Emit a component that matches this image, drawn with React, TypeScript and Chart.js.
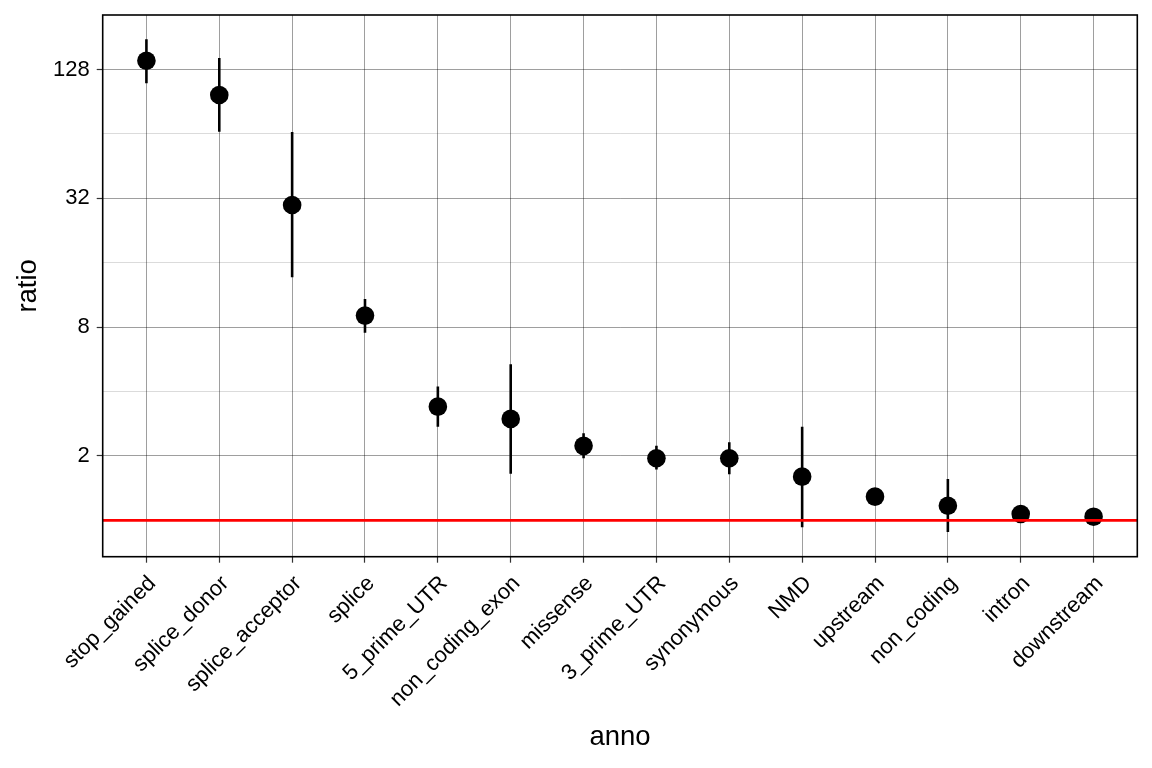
import React, { useEffect, useRef } from "react";
import { Chart, registerables } from "chart.js";

Chart.register(...registerables);

const categories = [
  "stop_gained", "splice_donor", "splice_acceptor", "splice", "5_prime_UTR",
  "non_coding_exon", "missense", "3_prime_UTR", "synonymous", "NMD",
  "upstream", "non_coding", "intron", "downstream",
];
const ratio = [140.8, 97.4, 29.8, 9.06, 3.4, 2.98, 2.23, 1.95, 1.95, 1.6, 1.29, 1.17, 1.07, 1.04];
const lower = [110.4, 65.6, 13.7, 7.54, 2.74, 1.65, 1.95, 1.73, 1.64, 0.929, 1.24, 0.883, 1.03, 1.01];
const upper = [177.3, 145, 65.4, 10.84, 4.22, 5.37, 2.55, 2.23, 2.32, 2.74, 1.34, 1.56, 1.11, 1.07];
const yTicks = [1, 2, 4, 8, 16, 32, 64, 128];
const yLabelled = [2, 8, 32, 128];
const refLine = 1;

const FONT = "'Liberation Sans', Arial, Helvetica, sans-serif";

const borderPlugin = {
  id: "panelBorder",
  afterDraw(chart: any) {
    const { ctx, chartArea } = chart;
    ctx.save();
    ctx.strokeStyle = "#000";
    ctx.lineWidth = 1.6;
    ctx.strokeRect(chartArea.left, chartArea.top, chartArea.right - chartArea.left, chartArea.bottom - chartArea.top);
    ctx.restore();
  },
};

export default function App() {
  const ref = useRef<HTMLCanvasElement | null>(null);
  useEffect(() => {
    if (!ref.current) return;
    const n = categories.length;
    const errData: any[] = [];
    categories.forEach((_, i) => {
      errData.push({ x: i, y: lower[i] });
      errData.push({ x: i, y: upper[i] });
      errData.push({ x: i, y: null });
    });
    const chart = new Chart(ref.current, {
      type: "scatter",
      data: {
        datasets: [
          {
            data: [{ x: -0.6, y: refLine }, { x: n - 1 + 0.6, y: refLine }],
            showLine: true,
            borderColor: "#ff0000",
            borderWidth: 2.6,
            pointRadius: 0,
          } as any,
          {
            data: categories.map((_, i) => ({ x: i, y: ratio[i] })),
            backgroundColor: "#000",
            borderColor: "#000",
            pointRadius: 9.3,
            pointBorderWidth: 0,
          },
          {
            data: errData,
            showLine: true,
            spanGaps: false,
            borderColor: "#000",
            borderWidth: 2.6,
            pointRadius: 0,
          } as any,
        ],
      },
      options: {
        animation: false,
        responsive: false,
        devicePixelRatio: 1,
        events: [],
        layout: { padding: { left: 0, right: 14.7, top: 15, bottom: 0 } },
        plugins: { legend: { display: false }, tooltip: { enabled: false } },
        scales: {
          x: {
            type: "linear",
            min: -0.6,
            max: n - 1 + 0.6,
            afterBuildTicks: (s: any) => {
              s.ticks = categories.map((_, i) => ({ value: i }));
            },
            afterFit: (s: any) => {
              s.height = 211.3;
              s.paddingLeft = 0;
              s.paddingRight = 0;
            },
            ticks: {
              autoSkip: false,
              maxRotation: 45,
              minRotation: 45,
              padding: 8,
              labelOffset: 6,
              color: "#000",
              font: { family: FONT, size: 22 },
              callback: (v: any) => categories[Math.round(Number(v))] ?? "",
            },
            grid: {
              color: "rgba(0,0,0,0.38)",
              lineWidth: 1,
              tickColor: "#333",
              tickLength: 6,
              tickWidth: 1.2,
            },
            border: { display: false },
            title: {
              display: true,
              text: "anno",
              color: "#000",
              font: { family: FONT, size: 27.5 },
              padding: { top: 0, bottom: 14 },
            },
          },
          y: {
            type: "logarithmic",
            min: 0.676,
            max: 230.4,
            afterBuildTicks: (s: any) => {
              s.ticks = yTicks.map((v) => ({ value: v }));
            },
            afterFit: (s: any) => {
              s.width = 102.7;
              s.paddingTop = 0;
              s.paddingBottom = 0;
            },
            ticks: {
              padding: 7,
              color: "#000",
              font: { family: FONT, size: 22 },
              callback: (v: any) => (yLabelled.includes(Number(v)) ? String(v) : ""),
            },
            grid: {
              color: (c: any) => (c.tick && yLabelled.includes(c.tick.value) ? "rgba(0,0,0,0.38)" : "rgba(0,0,0,0.14)"),
              lineWidth: 1,
              tickColor: (c: any) => (c.tick && yLabelled.includes(c.tick.value) ? "#333" : "rgba(0,0,0,0)"),
              tickLength: 6,
              tickWidth: 1.2,
            },
            border: { display: false },
            title: {
              display: true,
              text: "ratio",
              color: "#000",
              font: { family: FONT, size: 27.5 },
              padding: { top: 12, bottom: 0 },
            },
          },
        },
      },
      plugins: [borderPlugin],
    } as any);
    return () => chart.destroy();
  }, []);
  return (
    <div style={{ position: "absolute", left: 0, top: 0, width: 1152, height: 768, background: "#fff" }}>
      <canvas ref={ref} width={1152} height={768} style={{ width: 1152, height: 768, display: "block" }} />
    </div>
  );
}
